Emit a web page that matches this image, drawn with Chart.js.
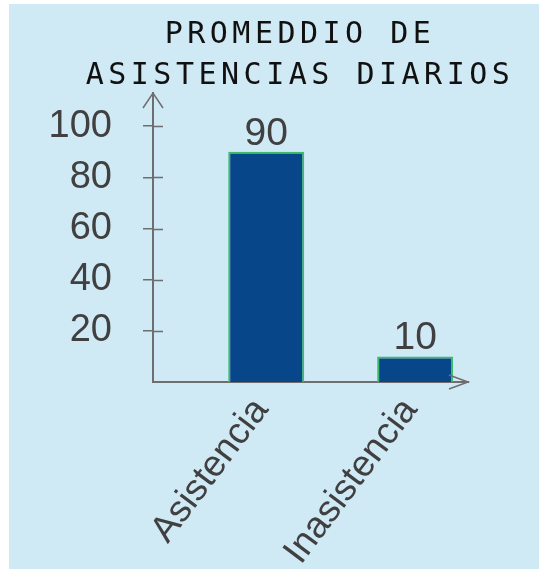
<!DOCTYPE html>
<html>
<head>
<meta charset="utf-8">
<script src="https://cdn.jsdelivr.net/npm/chart.js@4/dist/chart.umd.min.js"></script>
<style>
  html, body { margin: 0; padding: 0; background: #ffffff; width: 539px; height: 569px; overflow: hidden; }
  #wrap { position: absolute; left: 9px; top: 4px; width: 530px; height: 565px; background: #cfe9f5; }
</style>
</head>
<body>
<div id="wrap"><canvas id="c"></canvas></div>
<script>
// ---- data ----
const titleLines = ['PROMEDDIO DE', 'ASISTENCIAS DIARIOS'];
const categories = ['Asistencia', 'Inasistencia'];
const values = [90, 10];
const yTicks = [20, 40, 60, 80, 100];

const axisColor = '#6e6e6e';
const textColor = '#404040';
const labelFont = "'Liberation Sans', Arial, sans-serif";

// letter spacing for the title block
const titleSpacing = {
  id: 'titleSpacing',
  afterInit(chart) {
    const tb = chart.titleBlock;
    if (!tb || tb._wrapped) return;
    const orig = tb.draw.bind(tb);
    tb.draw = function () {
      const ctx = chart.ctx;
      const prev = ctx.letterSpacing;
      ctx.letterSpacing = '4.5px';
      orig();
      ctx.letterSpacing = prev || '0px';
    };
    tb._wrapped = true;
  }
};

// value labels above bars
const valueLabels = {
  id: 'valueLabels',
  afterDatasetsDraw(chart) {
    const ctx = chart.ctx;
    const meta = chart.getDatasetMeta(0);
    ctx.save();
    ctx.font = '39px ' + labelFont;
    ctx.fillStyle = textColor;
    ctx.textAlign = 'center';
    ctx.textBaseline = 'alphabetic';
    meta.data.forEach((bar, i) => {
      ctx.fillText(String(values[i]), bar.x, bar.y - 7);
    });
    ctx.restore();
  }
};

// axis arrowheads and inward half of the y tick marks
const axisDecor = {
  id: 'axisDecor',
  afterDraw(chart) {
    const ctx = chart.ctx;
    const {left, top, right, bottom} = chart.chartArea;
    const ys = chart.scales.y;
    ctx.save();
    ctx.strokeStyle = axisColor;
    ctx.lineWidth = 1.5;
    ctx.beginPath();
    yTicks.forEach(v => {
      const py = Math.round(ys.getPixelForValue(v)) + 0.5;
      ctx.moveTo(left, py);
      ctx.lineTo(left + 10, py);
    });
    ctx.stroke();
    ctx.beginPath();
    ctx.moveTo(left - 10, top + 15);
    ctx.lineTo(left, top);
    ctx.lineTo(left + 10, top + 15);
    ctx.moveTo(right - 19, bottom - 7);
    ctx.lineTo(right, bottom);
    ctx.lineTo(right - 19, bottom + 7);
    ctx.stroke();
    ctx.restore();
  }
};

new Chart(document.getElementById('c'), {
  type: 'bar',
  data: {
    datasets: [{
      data: values.map((v, i) => ({x: i + 1, y: v})),
      backgroundColor: '#08468a',
      borderColor: '#3dbb6c',
      borderWidth: 2,
      barPercentage: 0.51,
      categoryPercentage: 1
    }]
  },
  options: {
    responsive: true,
    maintainAspectRatio: false,
    animation: false,
    layout: { padding: { left: 34, right: -18, top: 0, bottom: 0 } },
    plugins: {
      legend: { display: false },
      tooltip: { enabled: false },
      title: {
        display: true,
        text: titleLines,
        color: '#111111',
        font: { family: "'DejaVu Sans Mono', monospace", size: 30, weight: 'normal', lineHeight: 41.5 / 30 },
        padding: { top: 10, bottom: -4 }
      }
    },
    scales: {
      x: {
        type: 'linear',
        offset: false,
        min: 0.24,
        max: 2.355,
        grid: { display: false, offset: false },
        border: { display: true, color: axisColor, width: 2 },
        afterBuildTicks: (s) => { s.ticks = categories.map((c, i) => ({value: i + 1})); },
        afterFit: (s) => { s.height = 187; },
        ticks: {
          minRotation: 53,
          maxRotation: 53,
          padding: 0,
          labelOffset: -5,
          color: textColor,
          font: { family: labelFont, size: 37 },
          callback: (v) => categories[v - 1]
        }
      },
      y: {
        type: 'linear',
        min: 0,
        max: 113,
        grid: { display: true, drawOnChartArea: false, drawTicks: true, tickLength: 10, color: axisColor, lineWidth: 1.5 },
        border: { display: true, color: axisColor, width: 2 },
        afterBuildTicks: (s) => { s.ticks = yTicks.map(v => ({value: v})); },
        afterFit: (s) => { s.width = 110; },
        ticks: {
          padding: 31,
          color: textColor,
          font: { family: labelFont, size: 38 }
        }
      },
      yR: {
        type: 'linear',
        position: 'right',
        display: true,
        grid: { display: false },
        border: { display: false },
        ticks: { display: false },
        afterFit: (s) => { s.width = 89; }
      }
    }
  },
  plugins: [titleSpacing, valueLabels, axisDecor]
});
</script>
</body>
</html>
